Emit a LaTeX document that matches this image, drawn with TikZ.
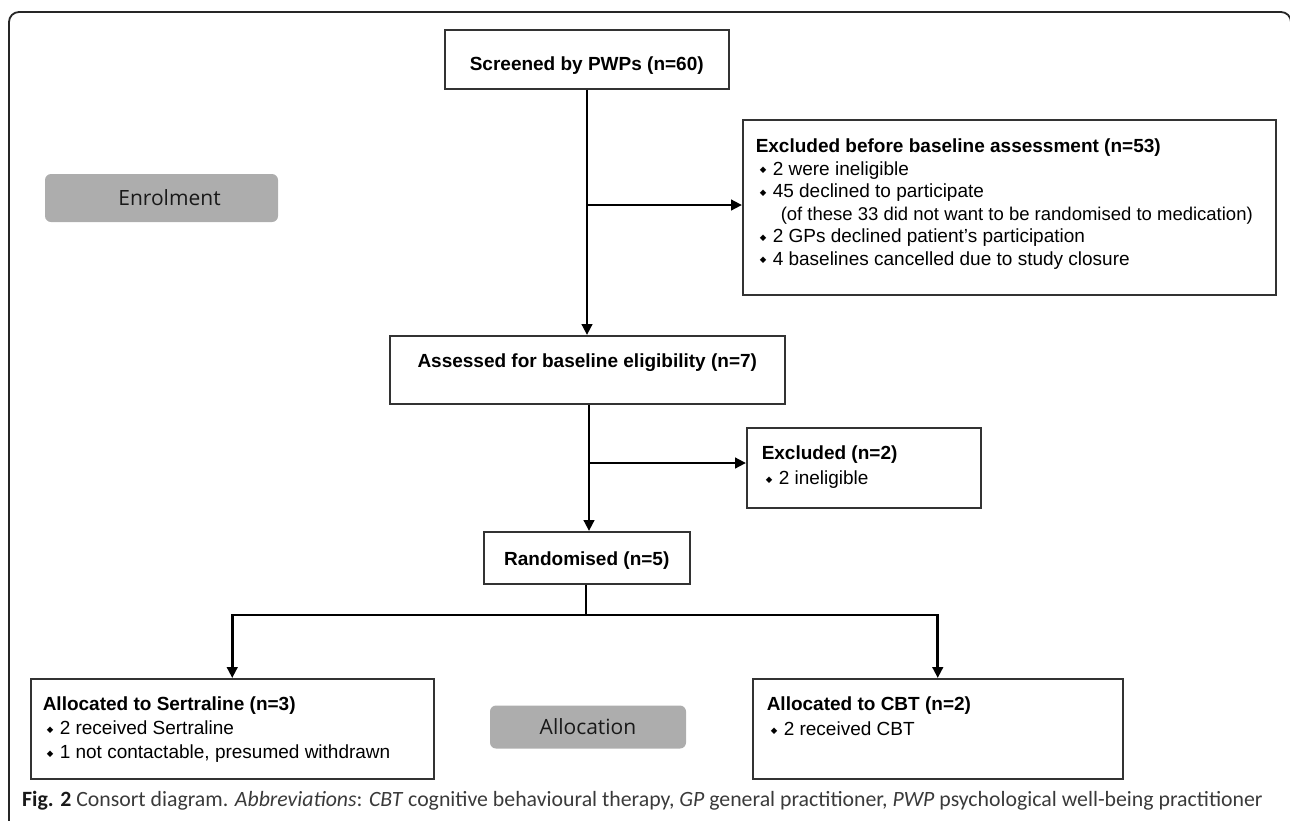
\documentclass[tikz,border=0pt]{standalone}
\usepackage{fontspec}
\setmainfont{Liberation Sans}
\newfontfamily\capfont{Carlito}
\newfontfamily\labfont{Open Sans}
\newfontfamily\symfont{DejaVu Sans}
\usetikzlibrary{arrows.meta}
\definecolor{labgray}{HTML}{ADADAD}
\definecolor{boxline}{HTML}{333333}
\definecolor{captxt}{HTML}{3A3A3A}
\newcommand\bul{\hspace*{4pt}\makebox[13pt][l]{\raisebox{2.2pt}{\symfont\fontsize{8.5}{8.5}\selectfont ◆}}}
\newcommand\hd[1]{{\bfseries #1}\par}
% #1 width, #2 height, #3 top space, #4 baselineskip, #5 left indent, #6 content
\newcommand\listbox[6]{\begin{minipage}[c][#2][t]{#1}\fontsize{19}{#4}\selectfont\leftskip=#5\parindent=0pt\vspace*{#3}#6\end{minipage}}
\tikzset{
  lbox/.style={draw=boxline, line width=1.5pt, inner sep=0pt, anchor=north west},
  cbox/.style={draw=boxline, line width=1.5pt, inner sep=0pt, anchor=north west, align=center, font=\bfseries\fontsize{19}{23}\selectfont},
  stage/.style={fill=labgray, rounded corners=6pt, inner sep=0pt, font=\labfont\fontsize{21}{24}\selectfont, text=black!90},
  conn/.style={line width=2.9pt, black},
  arr/.style={conn, -{Triangle[length=11pt,width=10.5pt]}},
}
\begin{document}
\begin{tikzpicture}[x=1pt,y=-1pt]
\useasboundingbox (0,0) rectangle (1290,820);
% outer frame
\draw[line width=1.8pt, black!85, rounded corners=10pt] (9,840) -- (9,12) -- (1291,12) -- (1291,840);

% stage labels
\node[stage, minimum width=233pt, minimum height=48pt] (enrol) at (161.5,198) {\hspace*{16pt}Enrolment};
\node[stage, minimum width=196pt, minimum height=43pt] (alloc) at (588,727) {Allocation};

% main flow boxes
\node[cbox, minimum width=284pt, text height=41pt, text depth=18pt] (screen) at (444,29) {Screened by PWPs (n=60)};
\node[cbox, minimum width=395pt, text height=32pt, text depth=36pt] (assess) at (389,335) {Assessed for baseline eligibility (n=7)};
\node[cbox, minimum width=206pt, text height=34pt, text depth=18pt] (rand) at (483,531) {Randomised (n=5)};

% side / list boxes
\node[lbox] (ex53) at (742,119) {\listbox{533pt}{175pt}{19pt}{22.5pt}{13pt}{%
\hd{Excluded before baseline assessment (n=53)}
\bul 2 were ineligible\par
\bul 45 declined to participate\par
{\fontsize{18.5}{22.5}\selectfont\hspace*{25pt}(of these 33 did not want to be randomised to medication)\par}
\bul 2 GPs declined patient’s participation\par
\bul 4 baselines cancelled due to study closure\par}};

\node[lbox] (ex2) at (746,427) {\listbox{234pt}{80pt}{18pt}{25pt}{15pt}{%
\hd{Excluded (n=2)}
\bul 2 ineligible\par}};

\node[lbox] (allocS) at (30,678) {\listbox{403pt}{100pt}{18pt}{24pt}{12pt}{%
\hd{Allocated to Sertraline (n=3)}
\bul 2 received Sertraline\par
\bul 1 not contactable, presumed withdrawn\par}};

\node[lbox] (allocC) at (752,678) {\listbox{370pt}{100pt}{18pt}{25pt}{14pt}{%
\hd{Allocated to CBT (n=2)}
\bul 2 received CBT\par}};

% connectors
\coordinate (b1) at (587,205);
\coordinate (b2) at (589,463);
\coordinate (split) at (586,615);
\draw[arr] (screen.south -| b1) -- (b1 |- assess.north);
\draw[arr] (b1) -- (b1 -| ex53.west);
\draw[arr] (assess.south -| b2) -- (b2 |- rand.north);
\draw[arr] (b2) -- (b2 -| ex2.west);
\draw[conn] (rand.south -| split) -- (split);
\draw[arr] (split) -| (allocS.north);
\draw[arr] (split) -| (allocC.north);

% caption
\node[anchor=base west, inner sep=0pt, font=\capfont\fontsize{21.8}{24}\selectfont, text=captxt] (cap) at (22,806)
 {{\color{black!90}\bfseries Fig. 2} Consort diagram. \textit{Abbreviations}: \textit{CBT} cognitive behavioural therapy, \textit{GP} general practitioner, \textit{PWP} psychological well-being practitioner};
\end{tikzpicture}
\end{document}
